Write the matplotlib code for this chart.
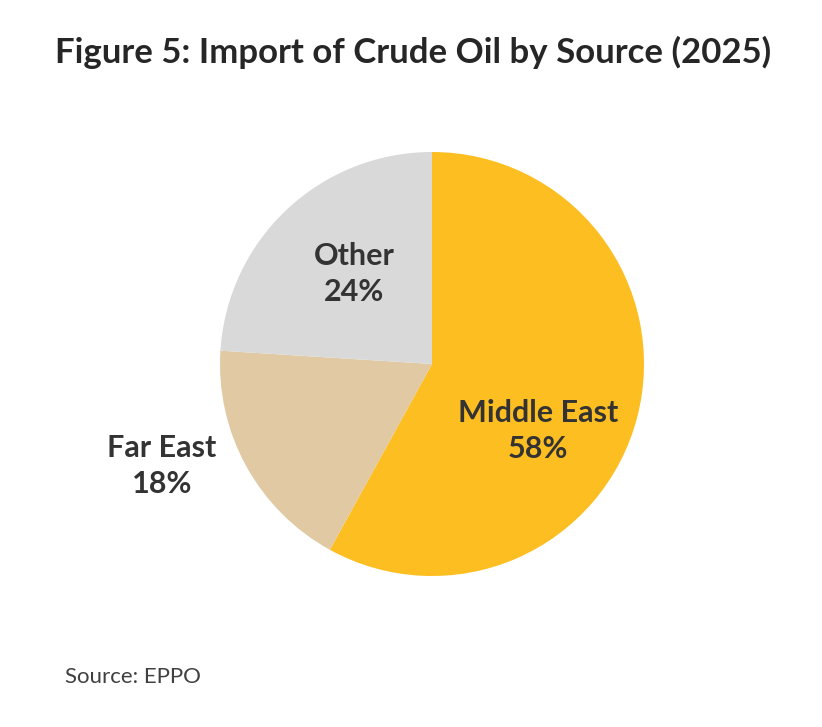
import matplotlib
matplotlib.use("Agg")
import matplotlib.pyplot as plt

categories = ["Middle East", "Far East", "Other"]
shares = [58, 18, 24]
colors = ["#FDBE21", "#E0C9A3", "#D9D9D9"]
title = "Figure 5: Import of Crude Oil by Source (2025)"
source = "Source: EPPO"

plt.rcParams['font.family'] = ['Lato', 'DejaVu Sans']

fig = plt.figure(figsize=(8.22, 7.27), dpi=100)
fig.patch.set_facecolor("white")

W, H = 822, 727
cx, cy, r = 432, 364, 212
ax = fig.add_axes([(cx - r) / W, (H - cy - r) / H, 2 * r / W, 2 * r / H])
ax.pie(shares, colors=colors, startangle=90, counterclock=False,
       radius=1, wedgeprops=dict(linewidth=0))
ax.set_xlim(-1, 1)
ax.set_ylim(-1, 1)
ax.set_aspect("auto")
ax.axis("off")

def px2data(px, py):
    return (px - cx) / r, (cy - py) / r

label_pos = {"Middle East": (538, 431), "Far East": (162, 466), "Other": (354, 274)}
for cat, val in zip(categories, shares):
    x, y = px2data(*label_pos[cat])
    ax.text(x, y, f"{cat}\n{val}%", ha="center", va="center", fontsize=22,
            fontweight="bold", color="#333333", linespacing=1.33, clip_on=False)

fig.text(413 / W, 1 - 52 / H, title, ha="center", va="center", fontsize=25,
         fontweight="bold", color="#262626")
fig.text(65 / W, 1 - 677 / H, source, ha="left", va="center", fontsize=16,
         color="#404040")

fig.savefig("out.png", dpi=100, facecolor="white")
